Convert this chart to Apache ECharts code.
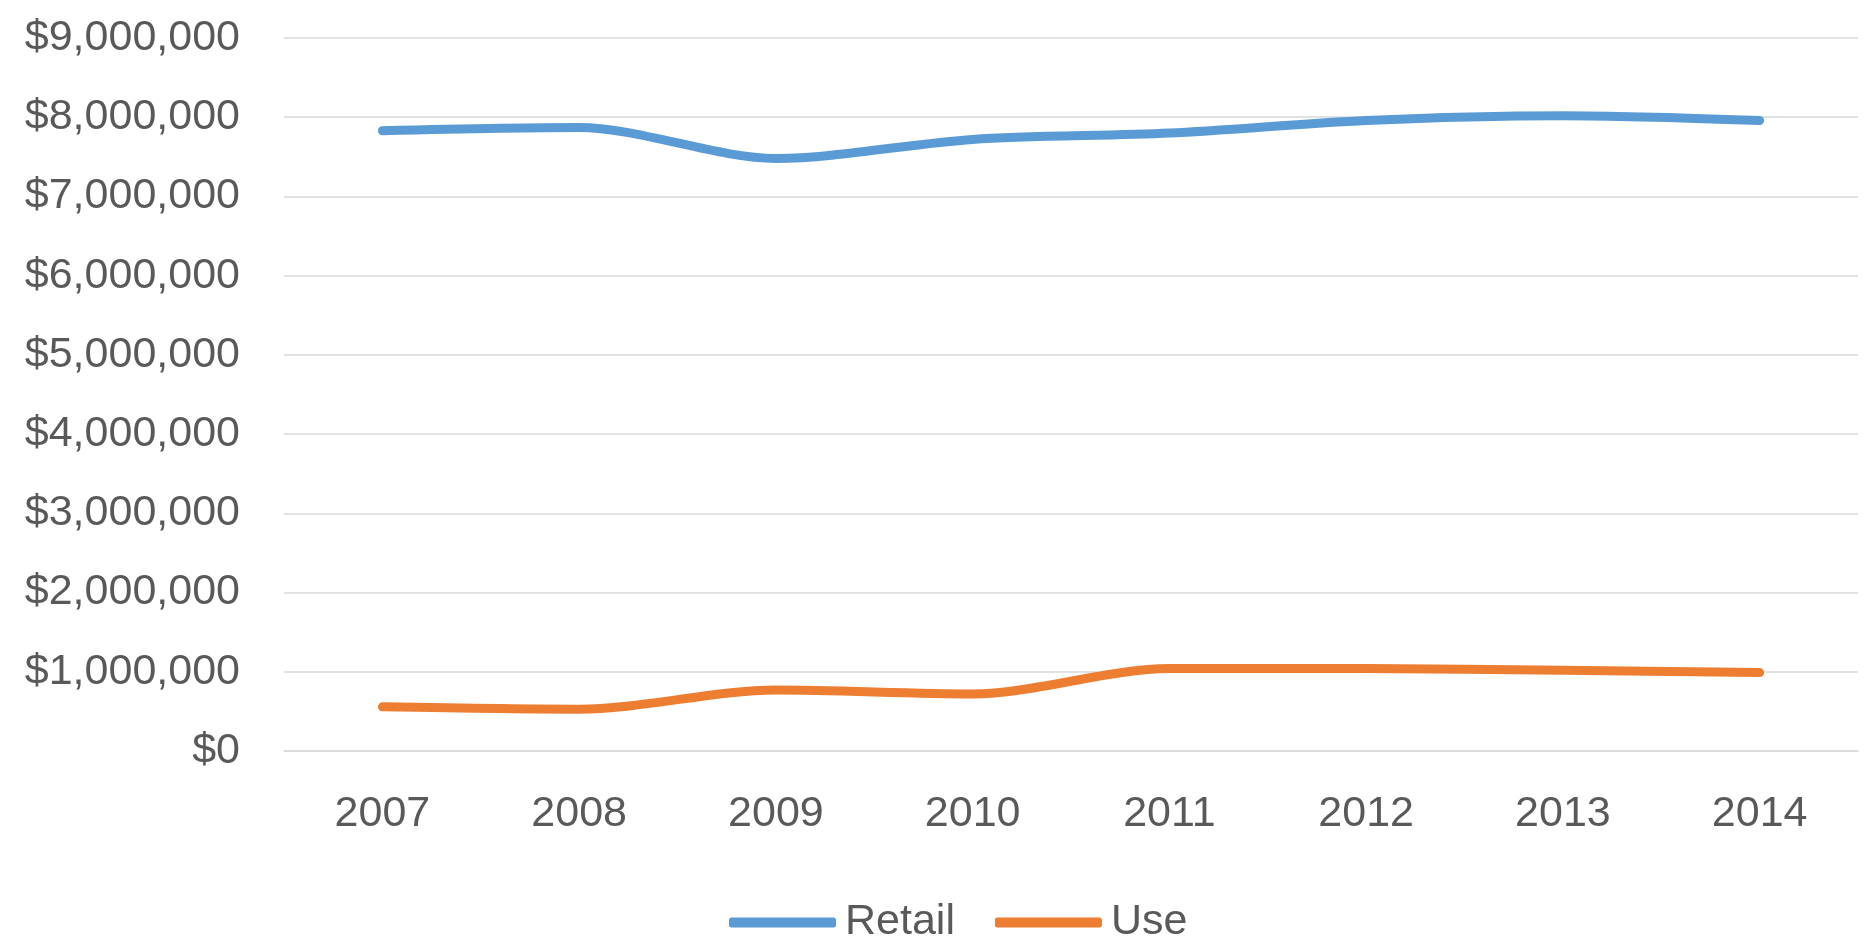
<!DOCTYPE html>
<html>
<head>
<meta charset="utf-8">
<script src="https://cdn.jsdelivr.net/npm/echarts@6/dist/echarts.min.js"></script>
<style>
html,body{margin:0;padding:0;background:#fff;}
#chart{width:1870px;height:944px;}
</style>
</head>
<body>
<div id="chart"></div>
<script>
const categories = ['2007','2008','2009','2010','2011','2012','2013','2014'];
const retail = [7830000, 7870000, 7480000, 7720000, 7800000, 7960000, 8020000, 7960000];
const useTax = [557000, 527000, 770000, 720000, 1040000, 1040000, 1020000, 990000];
const seriesNames = ['Retail', 'Use'];

const chart = echarts.init(document.getElementById('chart'));
const fontFamily = 'Liberation Sans, Arial, sans-serif';
chart.setOption({
  animation: false,
  backgroundColor: '#ffffff',
  grid: { left: 284, right: 12, top: 38, bottom: 193, containLabel: false },
  legend: {
    data: seriesNames,
    top: 896,
    left: 724,
    itemWidth: 107,
    itemHeight: 10,
    itemGap: 40,
    icon: 'roundRect',
    textStyle: { fontFamily, fontSize: 43, color: '#595959', padding: [0,0,0,4] }
  },
  xAxis: {
    type: 'category',
    data: categories,
    boundaryGap: true,
    axisLine: { show: true, lineStyle: { color: '#D9D9D9', width: 1.5 } },
    axisTick: { show: false },
    axisLabel: { fontFamily, fontSize: 43, color: '#595959', margin: 42 }
  },
  yAxis: {
    type: 'value',
    min: 0,
    max: 9000000,
    interval: 1000000,
    axisLine: { show: false },
    axisTick: { show: false },
    splitLine: { lineStyle: { color: '#D9D9D9', width: 1.5 } },
    axisLabel: {
      fontFamily, fontSize: 43, color: '#595959', margin: 44,
      formatter: v => '$' + v.toLocaleString('en-US')
    }
  },
  series: [
    {
      name: seriesNames[0], type: 'line', data: retail, smooth: 0.3,
      showSymbol: false, symbol: 'none',
      lineStyle: { color: '#5B9BD5', width: 9, cap: 'round' },
      itemStyle: { color: '#5B9BD5' }
    },
    {
      name: seriesNames[1], type: 'line', data: useTax, smooth: 0.3,
      showSymbol: false, symbol: 'none',
      lineStyle: { color: '#ED7D31', width: 9, cap: 'round' },
      itemStyle: { color: '#ED7D31' }
    }
  ]
});
</script>
</body>
</html>
